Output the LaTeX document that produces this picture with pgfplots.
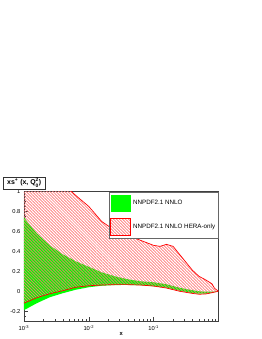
\documentclass[border=0pt]{standalone}
\usepackage{pgfplots}
\pgfplotsset{compat=1.18}
\usepgfplotslibrary{fillbetween}
\usetikzlibrary{patterns.meta}
\usepackage{fontspec}
\setmainfont{Liberation Sans}
\tikzset{hatchred/.style={pattern={Lines[angle=-45, distance=2.1213bp, line width=0.7bp]}, pattern color=red!55}}
\begin{document}
\begin{tikzpicture}[x=1bp,y=1bp]
\begin{axis}[
  at={(24bp,17bp)}, anchor=south west, scale only axis,
  width=195bp, height=130bp,
  xmode=log, xmin=1e-3, xmax=1, ymin=-0.3, ymax=1,
  axis line style={black!75, line width=0.6bp},
  tick align=inside, xtick pos=bottom, ytick pos=left,
  xtick={1e-3,1e-2,1e-1},
  xticklabels={10\textsuperscript{-3},10\textsuperscript{-2},10\textsuperscript{-1}},
  minor xtick={0.002,0.003,0.004,0.005,0.006,0.007,0.008,0.009,0.02,0.03,0.04,0.05,0.06,0.07,0.08,0.09,0.2,0.3,0.4,0.5,0.6,0.7,0.8,0.9},
  ytick={-0.2,0,0.2,0.4,0.6,0.8,1},
  yticklabels={-0.2,0,0.2,0.4,0.6,0.8,1},
  minor ytick={-0.3,-0.25,-0.15,-0.1,-0.05,0.05,0.1,0.15,0.25,0.3,0.35,0.45,0.5,0.55,0.65,0.7,0.75,0.85,0.9,0.95},
  major tick length=4bp, minor tick length=2bp,
  tick style={black!75, line width=0.5bp},
  ticklabel style={font=\fontsize{5.8}{6}\selectfont},
  xticklabel style={yshift=-1bp},
  xlabel={x},
  xlabel style={font=\fontsize{5.8}{6}\selectfont\bfseries, at={(rel axis cs:0.5,0)}, anchor=north, yshift=-8bp},
  legend cell align=left,
  legend style={at={(rel axis cs:0.436,0.994)}, anchor=north west,
    draw=black!60, fill=white, line width=0.5bp,
    font=\fontsize{6.3}{7}\selectfont, inner xsep=1.5bp, inner ysep=2.5bp,
    row sep=6bp},
]
\addplot[draw=none, name path=gu, forget plot] coordinates {
(0.001,0.74) (0.00158,0.58) (0.00251,0.46) (0.00398,0.37) (0.00631,0.30)
(0.01,0.245) (0.0158,0.19) (0.0251,0.15) (0.0398,0.12) (0.0631,0.10)
(0.1,0.09) (0.158,0.07) (0.251,0.035) (0.398,0.01) (0.5,0.0)
(0.631,-0.005) (0.794,-0.005) (1,0)};
\addplot[draw=none, name path=gl, forget plot] coordinates {
(0.001,-0.19) (0.00158,-0.12) (0.00251,-0.06) (0.00398,-0.02) (0.00631,0.015)
(0.01,0.04) (0.0158,0.055) (0.0251,0.062) (0.0398,0.063) (0.0631,0.06)
(0.1,0.05) (0.158,0.035) (0.251,0.005) (0.398,-0.02) (0.5,-0.025)
(0.631,-0.025) (0.794,-0.015) (1,0)};
\addplot[fill=green, draw=none,
  legend image code/.code={\fill[green] (0bp,-8.5bp) rectangle (20bp,8.5bp);}]
  fill between[of=gu and gl];
\addlegendentry{NNPDF2.1 NNLO}
\addplot[red, line width=0.7bp, name path=ru, forget plot] coordinates {
(0.001,1.5) (0.00158,1.35) (0.00251,1.2) (0.00398,1.08) (0.00631,0.96)
(0.01,0.85) (0.0158,0.70) (0.0251,0.61) (0.0398,0.56) (0.0631,0.51)
(0.1,0.46) (0.126,0.45) (0.158,0.47) (0.2,0.45) (0.251,0.37)
(0.316,0.29) (0.398,0.21) (0.5,0.15) (0.631,0.115) (0.794,0.075)
(0.87,0.03) (1,0)};
\addplot[red, line width=0.7bp, name path=rl, forget plot] coordinates {
(0.001,-0.12) (0.00158,-0.065) (0.00251,-0.025) (0.00398,0.005) (0.00631,0.04)
(0.01,0.055) (0.0158,0.062) (0.0251,0.066) (0.0398,0.066) (0.0631,0.062)
(0.1,0.052) (0.158,0.032) (0.251,0.0) (0.398,-0.022) (0.5,-0.03)
(0.631,-0.028) (0.794,-0.015) (1,0)};
\addplot[draw=none, hatchred,
  legend image code/.code={\draw[red, line width=0.7bp, hatchred] (0bp,-8.5bp) rectangle (20bp,8.5bp);}]
  fill between[of=ru and rl];
\addlegendentry{NNPDF2.1 NNLO HERA-only}
\end{axis}
\node[fill=black!60, minimum width=42bp, minimum height=12bp, anchor=north west, inner sep=0pt] at (4bp,161bp) {};
\node[draw=black!80, fill=white, line width=0.6bp, minimum width=42bp, minimum height=12bp, inner sep=0pt,
  anchor=north west, font=\fontsize{7}{8}\selectfont\bfseries]
  at (3bp,162bp) {xs\textsuperscript{+} (x, Q$^{\mathbf{2}}_{\mathbf{0}}$)};
\path (0,0) rectangle (262bp,339bp);
\end{tikzpicture}
\end{document}
